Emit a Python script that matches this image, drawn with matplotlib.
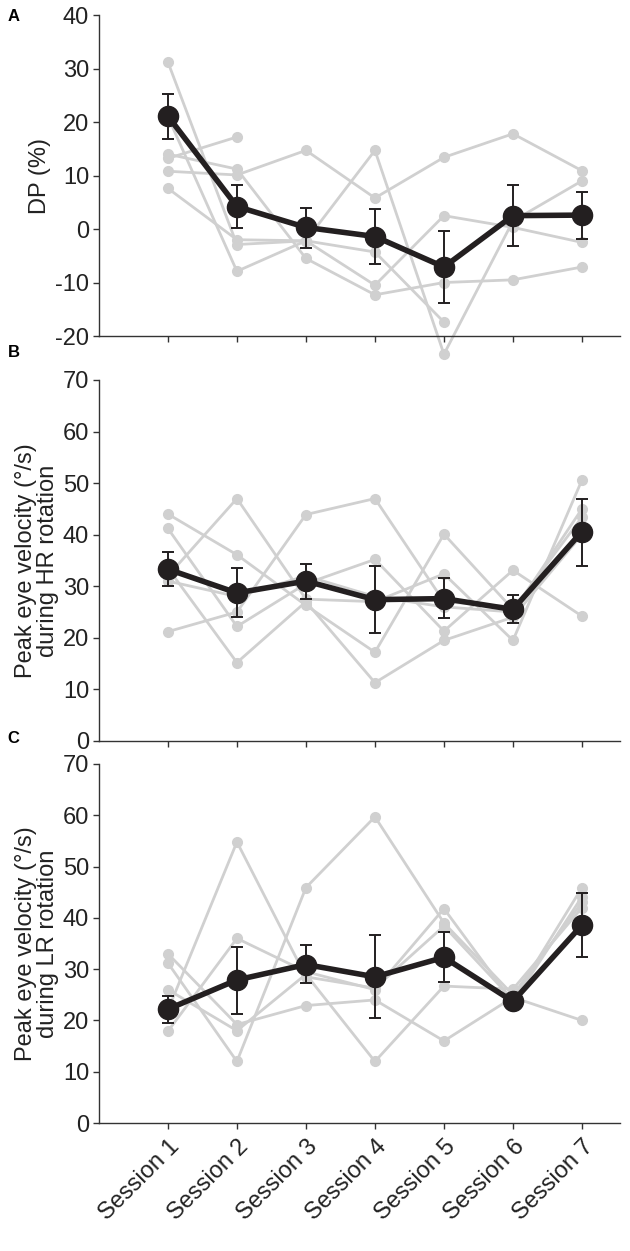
import numpy as np
import matplotlib.pyplot as plt

plt.rcParams['font.family'] = ['Liberation Sans', 'DejaVu Sans']
plt.rcParams['axes.unicode_minus'] = False

sessions = ['Session 1', 'Session 2', 'Session 3', 'Session 4',
            'Session 5', 'Session 6', 'Session 7']
nan = np.nan

# panel A - DP (%)
dp_subjects = [
    [31.2, -2.9, -2.2, 14.7, -23.4, 1.5, 9.0],
    [13.2, 17.2, nan, nan, nan, nan, nan],
    [14.0, 11.2, -5.5, -12.3, -10.0, -9.5, -7.1],
    [10.8, 10.1, 14.7, 5.8, 13.4, 17.8, 10.9],
    [7.6, -2.0, -2.2, -4.3, -17.4, nan, nan],
    [21.0, -7.9, -2.2, -10.5, 2.5, 0.3, -2.5],
]
dp_mean = [21.1, 4.2, 0.3, -1.4, -7.1, 2.5, 2.6]
dp_hi = [25.2, 8.3, 4.0, 3.8, -0.3, 8.3, 7.0]
dp_lo = [16.9, 0.2, -3.5, -6.5, -13.8, -3.2, -1.8]

# panel B - HR rotation
hr_subjects = [
    [44.0, 36.1, 26.3, 17.2, 40.1, 25.5, 43.4],
    [41.2, 22.2, 30.5, 35.2, 21.3, 33.1, 24.2],
    [32.0, 47.0, 27.5, 27.0, 32.4, 19.5, 50.6],
    [21.2, 25.0, 43.9, 47.0, 27.0, 26.0, 40.0],
    [33.5, 15.2, 27.0, 11.3, 19.5, 24.0, 40.0],
    [31.0, 28.0, 32.0, 28.0, 26.0, 25.0, 45.0],
]
hr_mean = [33.3, 28.7, 31.0, 27.4, 27.6, 25.5, 40.6]
hr_hi = [36.7, 33.5, 34.3, 34.0, 31.5, 28.3, 47.0]
hr_lo = [30.0, 24.0, 27.5, 21.0, 23.8, 22.8, 34.0]

# panel C - LR rotation
lr_subjects = [
    [22.0, 54.8, 28.5, 26.3, 38.4, 24.0, 45.9],
    [33.0, 19.2, 22.9, 24.0, 16.0, 24.5, 20.0],
    [17.9, 36.0, 29.5, 26.0, 41.8, 23.5, 44.1],
    [31.2, 12.0, 45.9, 59.7, 39.0, 25.0, 43.0],
    [26.0, 18.0, 29.0, 12.0, 26.7, 26.1, 42.0],
]
lr_mean = [22.2, 27.9, 30.9, 28.5, 32.3, 23.7, 38.6]
lr_hi = [24.8, 34.4, 34.7, 36.7, 37.3, 24.3, 44.8]
lr_lo = [19.5, 21.3, 27.3, 20.4, 27.5, 23.1, 32.3]

grey = '#d0d0d0'
dark = '#231f20'
axcol = '#333333'
txt = '#222222'
fs = 17

fig = plt.figure(figsize=(6.3, 12.51), dpi=100)
boxes = [
    [0.157, 0.7314, 0.827, 0.2566],
    [0.157, 0.4077, 0.827, 0.2886],
    [0.157, 0.1023, 0.827, 0.2870],
]
panels = [
    (dp_subjects, dp_mean, dp_lo, dp_hi, (-20, 40), np.arange(-20, 41, 10), 'DP (%)'),
    (hr_subjects, hr_mean, hr_lo, hr_hi, (0, 70), np.arange(0, 71, 10),
     'Peak eye velocity (°/s)\nduring HR rotation'),
    (lr_subjects, lr_mean, lr_lo, lr_hi, (0, 70), np.arange(0, 71, 10),
     'Peak eye velocity (°/s)\nduring LR rotation'),
]
letters = ['A', 'B', 'C']
letter_y = [0.993, 0.724, 0.416]

x = np.arange(1, len(sessions) + 1)
for i, (subs, mean, lo, hi, ylim, yt, lab) in enumerate(panels):
    ax = fig.add_axes(boxes[i])
    for s in subs:
        ax.plot(x, s, '-o', color=grey, lw=2.0, ms=7, clip_on=False, zorder=1)
    mean = np.array(mean)
    yerr = [mean - np.array(lo), np.array(hi) - mean]
    ax.plot(x, mean, '-o', color=dark, lw=4, ms=14.5, zorder=3, clip_on=False)
    ax.errorbar(x, mean, yerr=yerr, fmt='none', ecolor=dark, elinewidth=1.4,
                capsize=4, capthick=1.4, zorder=4)
    ax.set_xlim(0, 7.55)
    ax.set_ylim(*ylim)
    ax.set_yticks(yt)
    ax.set_xticks(x)
    if i == 2:
        ax.set_xticklabels(sessions, rotation=45, ha='right', rotation_mode='anchor',
                           fontsize=fs, color=txt)
    else:
        ax.set_xticklabels([])
    ax.tick_params(axis='y', labelsize=fs, labelcolor=txt, length=4,
                   color=axcol, width=1, pad=3)
    ax.tick_params(axis='x', length=4, color=axcol, width=1, pad=5)
    for side in ['top', 'right']:
        ax.spines[side].set_visible(False)
    for side in ['left', 'bottom']:
        ax.spines[side].set_color(axcol)
        ax.spines[side].set_linewidth(1)
    ax.set_ylabel(lab, fontsize=fs, color=txt, labelpad=3, linespacing=0.95)
    fig.text(0.012, letter_y[i], letters[i], fontsize=12, fontweight='bold',
             va='top', ha='left')

fig.savefig('out.png', dpi=100)
